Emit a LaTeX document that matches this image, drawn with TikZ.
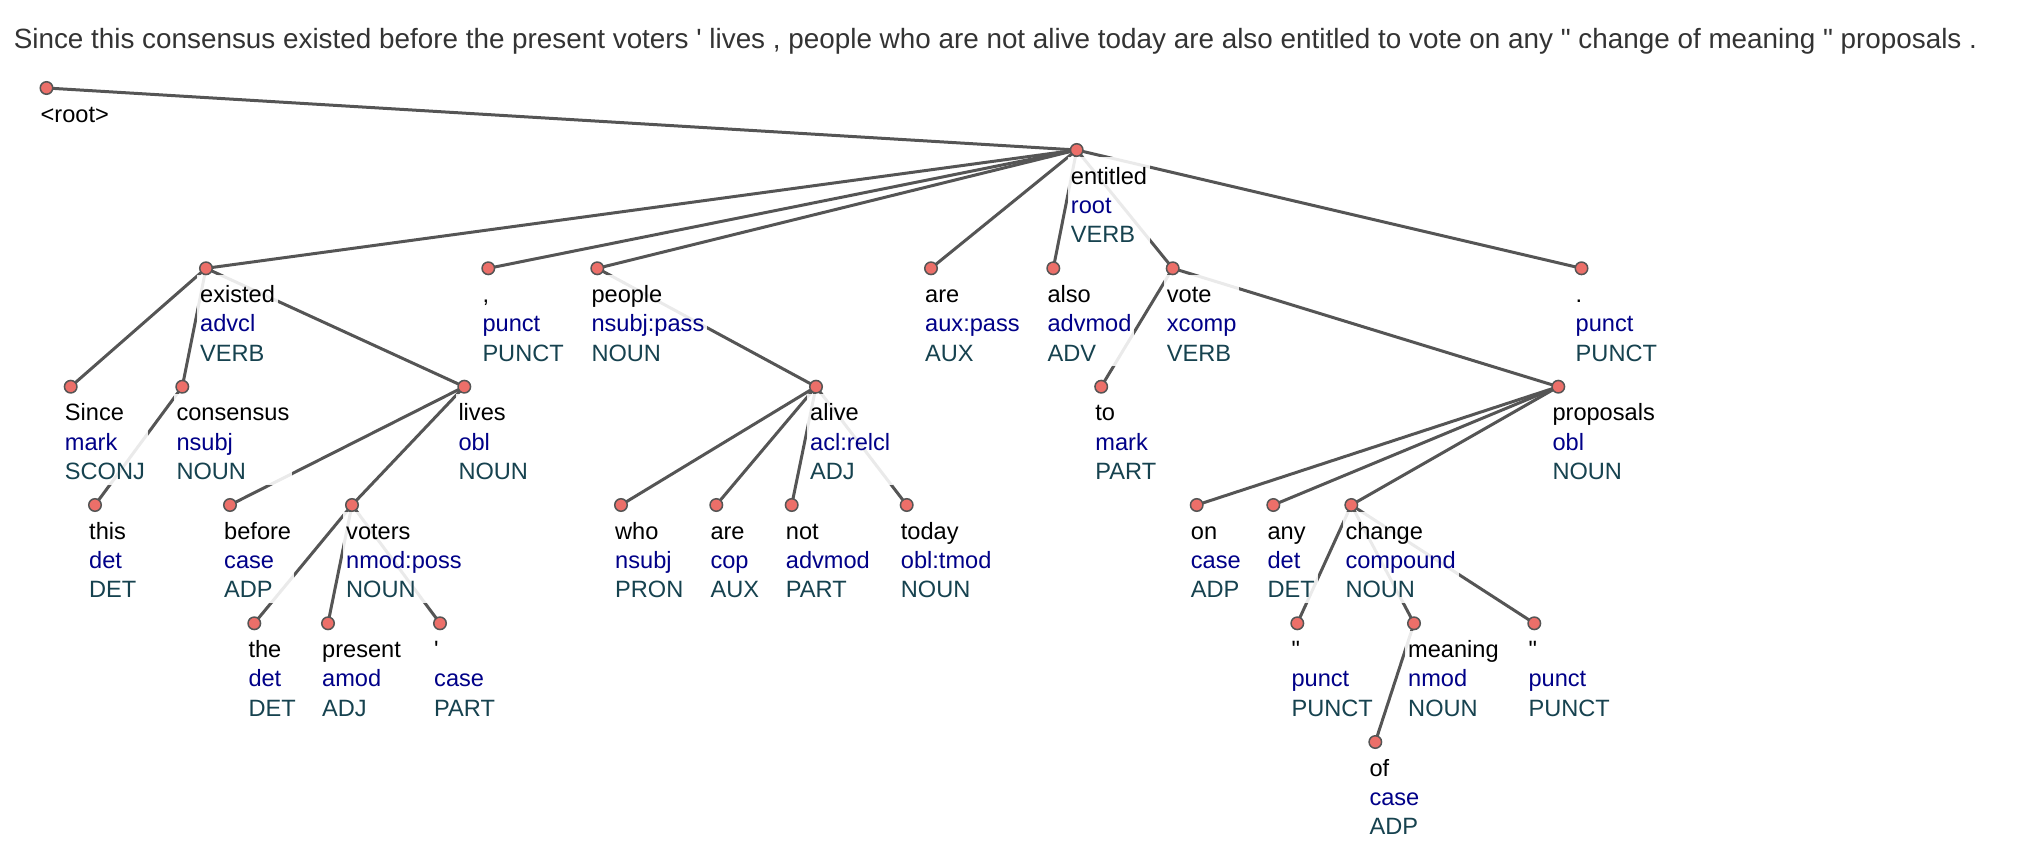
\documentclass[tikz,border=0pt]{standalone}
\usepackage{fontspec}
\newfontfamily\lab{Liberation Sans}
\usetikzlibrary{calc}
\pgfdeclarelayer{edges}
\pgfdeclarelayer{labels}
\pgfsetlayers{edges,labels,main}
\definecolor{edgecol}{HTML}{555555}
\definecolor{dotfill}{HTML}{EC6F69}
\definecolor{relcol}{HTML}{000088}
\definecolor{poscol}{HTML}{16424F}
\definecolor{titlecol}{HTML}{333333}
\tikzset{
  deplink/.style={draw=edgecol, line width=3pt},
  dot/.style={circle, fill=dotfill, draw=edgecol, line width=1.5pt, inner sep=0pt, minimum size=12.5pt},
  lbl/.style={anchor=north west, align=left, inner xsep=3pt, inner ysep=3pt, fill=white, fill opacity=0.88, text opacity=1, font=\lab\fontsize{23.6}{29.3}\selectfont},
}
\newcommand\tok[6]{%
  \node[dot] (#1) at (#2,#3) {};
  \begin{pgfonlayer}{labels}
  \node[lbl] (#1-l) at (#2-9,#3+7) {\rule{0pt}{24pt}#4\\\textcolor{relcol}{#5}\\\textcolor{poscol}{\rule[-2pt]{0pt}{2pt}#6}};
  \end{pgfonlayer}}
\begin{document}
\begin{tikzpicture}[x=1pt,y=-1pt]
\useasboundingbox (0,0) rectangle (2026,858);
\node[anchor=base west, text=titlecol, inner sep=0pt, font=\lab\fontsize{27.85}{32}\selectfont] (title) at (13.6,49)
  {Since this consensus existed before the present voters ' lives , people who are not alive today are also entitled to vote on any " change of meaning " proposals .};
% root
\node[dot] (root) at (46.5,88) {};
\begin{pgfonlayer}{labels}
\node[lbl] (root-l) at (46.5-9,88+7) {\rule{0pt}{24pt}<root>};
\end{pgfonlayer}
% level 1
\tok{entitled}{1076.7}{150}{entitled}{root}{VERB}
% level 2
\tok{existed}{206}{268.3}{existed}{advcl}{VERB}
\tok{comma}{488.3}{268.3}{,}{punct}{PUNCT}
\tok{people}{597.3}{268.3}{people}{nsubj:pass}{NOUN}
\tok{areaux}{931}{268.3}{are}{aux:pass}{AUX}
\tok{also}{1053.3}{268.3}{also}{advmod}{ADV}
\tok{vote}{1172.7}{268.3}{vote}{xcomp}{VERB}
\tok{period}{1581.5}{268.3}{.}{punct}{PUNCT}
% level 3
\tok{since}{70.7}{386.7}{Since}{mark}{SCONJ}
\tok{consensus}{182.3}{386.7}{consensus}{nsubj}{NOUN}
\tok{lives}{464.3}{386.7}{lives}{obl}{NOUN}
\tok{alive}{816}{386.7}{alive}{acl:relcl}{ADJ}
\tok{to}{1101.2}{386.7}{to}{mark}{PART}
\tok{proposals}{1558.3}{386.7}{proposals}{obl}{NOUN}
% level 4
\tok{this}{95}{505}{this}{det}{DET}
\tok{before}{230}{505}{before}{case}{ADP}
\tok{voters}{352}{505}{voters}{nmod:poss}{NOUN}
\tok{who}{621}{505}{who}{nsubj}{PRON}
\tok{arecop}{716.3}{505}{are}{cop}{AUX}
\tok{not}{791.7}{505}{not}{advmod}{PART}
\tok{today}{906.7}{505}{today}{obl:tmod}{NOUN}
\tok{on}{1196.7}{505}{on}{case}{ADP}
\tok{any}{1273.3}{505}{any}{det}{DET}
\tok{change}{1351.3}{505}{change}{compound}{NOUN}
% level 5
\tok{the}{254.3}{623.3}{the}{det}{DET}
\tok{present}{328}{623.3}{present}{amod}{ADJ}
\tok{apos}{440}{623.3}{'}{case}{PART}
\tok{qa}{1297.3}{623.3}{"}{punct}{PUNCT}
\tok{meaning}{1414}{623.3}{meaning}{nmod}{NOUN}
\tok{qb}{1534.3}{623.3}{"}{punct}{PUNCT}
% level 6
\tok{of}{1375.3}{742}{of}{case}{ADP}
% edges
\begin{pgfonlayer}{edges}
\draw[deplink] (root.center) -- (entitled.center);
\foreach \c in {existed,comma,people,areaux,also,vote,period}
  \draw[deplink] (entitled.center) -- (\c.center);
\foreach \c in {since,consensus,lives}
  \draw[deplink] (existed.center) -- (\c.center);
\draw[deplink] (consensus.center) -- (this.center);
\foreach \c in {before,voters}
  \draw[deplink] (lives.center) -- (\c.center);
\foreach \c in {the,present,apos}
  \draw[deplink] (voters.center) -- (\c.center);
\draw[deplink] (people.center) -- (alive.center);
\foreach \c in {who,arecop,not,today}
  \draw[deplink] (alive.center) -- (\c.center);
\foreach \c in {to,proposals}
  \draw[deplink] (vote.center) -- (\c.center);
\foreach \c in {on,any,change}
  \draw[deplink] (proposals.center) -- (\c.center);
\foreach \c in {qa,meaning,qb}
  \draw[deplink] (change.center) -- (\c.center);
\draw[deplink] (meaning.center) -- (of.center);
\end{pgfonlayer}
\end{tikzpicture}
\end{document}
